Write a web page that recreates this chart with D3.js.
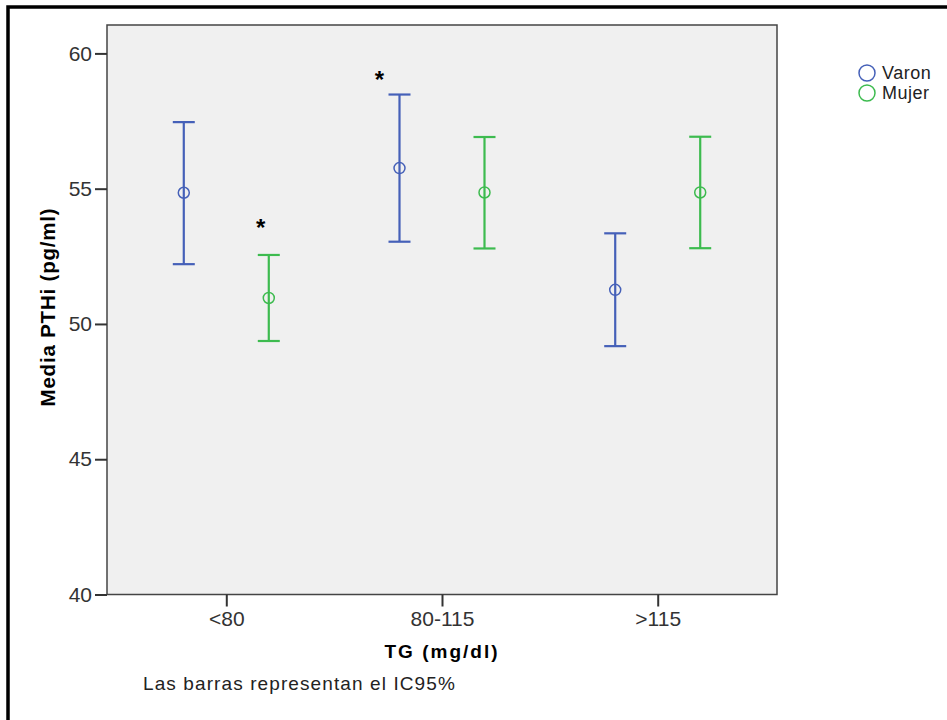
<!DOCTYPE html>
<html>
<head>
<meta charset="utf-8">
<script src="https://cdn.jsdelivr.net/npm/d3@7"></script>
<style>
  body { margin: 0; background: #fff; }
  text { font-family: Arial, "Liberation Sans", sans-serif; }
</style>
</head>
<body>
<script>
// categories and groups
var categories = ["<80", "80-115", ">115"]
var groups = ["Varon", "Mujer"]

// means and 95% CI per group, one value per category
var varonMean = [54.85, 55.76, 51.26]
var varonLow = [52.21, 53.04, 49.18]
var varonHigh = [57.46, 58.48, 53.35]
var mujerMean = [50.96, 54.86, 54.86]
var mujerLow = [49.37, 52.79, 52.80]
var mujerHigh = [52.55, 56.91, 56.92]

// significance marks: category, group, height in pg/ml
var starCats = ["<80", "80-115"]
var starGroups = ["Mujer", "Varon"]
var starValues = [53.78, 59.25]

var yTicks = [40, 45, 50, 55, 60]

var w = 947
var h = 720
var plot = {left: 107, right: 777, top: 25, bottom: 594.5}
var colors = {Varon: "#4560b8", Mujer: "#3dbb4f"}
var font = "Arial, 'Liberation Sans', sans-serif"

var svg = d3.select("body")
            .append("svg")
            .attr("width", w)
            .attr("height", h)

// outer frame (only left and top edges show)
svg.append("rect")
   .attr("x", 8)
   .attr("y", 7)
   .attr("width", 1200)
   .attr("height", 1200)
   .attr("fill", "none")
   .attr("stroke", "#000")
   .attr("stroke-width", 3.5)

// scales
var xScale = d3.scalePoint()
               .domain(categories)
               .range([plot.left, plot.right])
               .padding(0.553)
var xInner = d3.scalePoint()
               .domain(groups)
               .range([-42.5, 42.5])
var yScale = d3.scaleLinear()
               .domain([40, 61.05])
               .range([plot.bottom, plot.top])

// plot background
svg.append("rect")
   .attr("x", plot.left)
   .attr("y", plot.top)
   .attr("width", plot.right - plot.left)
   .attr("height", plot.bottom - plot.top)
   .attr("fill", "#f0f0f0")
   .attr("stroke", "#444")
   .attr("stroke-width", 1.5)

// y axis
var yAxis = svg.append("g")
   .attr("transform", "translate(" + plot.left + ",0)")
   .call(d3.axisLeft(yScale).tickValues(yTicks).tickSize(12).tickPadding(3))
yAxis.select(".domain").remove()
yAxis.selectAll("line").attr("stroke", "#333").attr("stroke-width", 2)
yAxis.selectAll("text")
     .attr("fill", "#333")
     .style("font-size", "21px")
     .style("font-family", font)

// x axis
var xAxis = svg.append("g")
   .attr("transform", "translate(0," + plot.bottom + ")")
   .call(d3.axisBottom(xScale).tickSize(12).tickPadding(5))
xAxis.select(".domain").remove()
xAxis.selectAll("line").attr("stroke", "#333").attr("stroke-width", 2)
xAxis.selectAll("text")
     .attr("fill", "#333")
     .style("font-size", "21px")
     .style("font-family", font)

// build rows for drawing
var rows = []
categories.forEach(function(c, i) {
  rows.push({cat: c, group: "Varon", mean: varonMean[i], low: varonLow[i], high: varonHigh[i]})
  rows.push({cat: c, group: "Mujer", mean: mujerMean[i], low: mujerLow[i], high: mujerHigh[i]})
})

function xPos(d) {
  return xScale(d.cat) + xInner(d.group)
}

var bars = svg.selectAll(".ebar")
              .data(rows)
              .enter()
              .append("g")
              .attr("class", "ebar")
              .attr("stroke", function(d) { return colors[d.group] })
              .attr("stroke-width", 2.2)
              .attr("fill", "none")

// vertical line
bars.append("line")
    .attr("x1", xPos).attr("x2", xPos)
    .attr("y1", function(d) { return yScale(d.high) })
    .attr("y2", function(d) { return yScale(d.low) })

// caps
bars.append("line")
    .attr("x1", function(d) { return xPos(d) - 11 })
    .attr("x2", function(d) { return xPos(d) + 11 })
    .attr("y1", function(d) { return yScale(d.high) })
    .attr("y2", function(d) { return yScale(d.high) })
bars.append("line")
    .attr("x1", function(d) { return xPos(d) - 11 })
    .attr("x2", function(d) { return xPos(d) + 11 })
    .attr("y1", function(d) { return yScale(d.low) })
    .attr("y2", function(d) { return yScale(d.low) })

// mean marker
bars.append("circle")
    .attr("cx", xPos)
    .attr("cy", function(d) { return yScale(d.mean) })
    .attr("r", 5.5)
    .attr("stroke-width", 1.5)

// asterisks (shifted left of their bar, more for Varon)
svg.selectAll(".star")
   .data(starCats)
   .enter()
   .append("text")
   .attr("class", "star")
   .attr("x", function(d, i) {
      var shift = starGroups[i] === "Varon" ? -20 : -8
      return xScale(d) + xInner(starGroups[i]) + shift
   })
   .attr("y", function(d, i) { return yScale(starValues[i]) + 14 })
   .attr("text-anchor", "middle")
   .style("font-size", "24px")
   .style("font-weight", "bold")
   .text("*")

// axis titles
svg.append("text")
   .attr("transform", "translate(55,307) rotate(-90)")
   .attr("text-anchor", "middle")
   .style("font-size", "20.5px")
   .style("font-weight", "bold")
   .style("letter-spacing", "0.8px")
   .text("Media PTHi (pg/ml)")

svg.append("text")
   .attr("x", 442)
   .attr("y", 658)
   .attr("text-anchor", "middle")
   .style("font-size", "19px")
   .style("font-weight", "bold")
   .style("letter-spacing", "2px")
   .text("TG (mg/dl)")

svg.append("text")
   .attr("x", 143)
   .attr("y", 690)
   .style("font-size", "19px")
   .style("letter-spacing", "1.1px")
   .attr("fill", "#222")
   .text("Las barras representan el IC95%")

// legend
var legend = svg.selectAll(".leg")
                .data(groups)
                .enter()
                .append("g")
                .attr("class", "leg")
                .attr("transform", function(d, i) { return "translate(867," + (73 + i * 20) + ")" })
legend.append("circle")
      .attr("r", 8)
      .attr("fill", "none")
      .attr("stroke", function(d) { return colors[d] })
      .attr("stroke-width", 1.5)
legend.append("text")
      .attr("x", 15)
      .attr("y", 6)
      .style("font-size", "18px")
      .style("letter-spacing", "0.5px")
      .attr("fill", "#222")
      .text(function(d) { return d })
</script>
</body>
</html>
